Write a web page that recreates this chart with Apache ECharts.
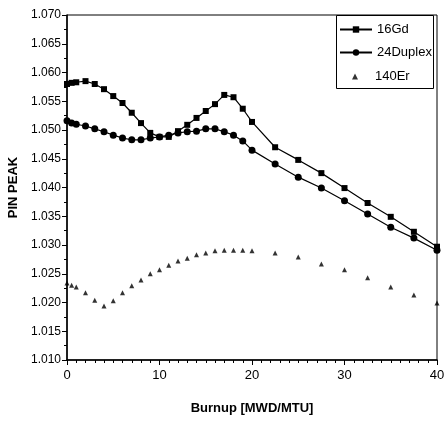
<!DOCTYPE html>
<html>
<head>
<meta charset="utf-8">
<script src="https://cdn.jsdelivr.net/npm/echarts@6/dist/echarts.min.js"></script>
<style>
html, body { margin: 0; padding: 0; background: #fff; }
#chart { width: 447px; height: 421px; }
</style>
</head>
<body>
<div id="chart"></div>
<script>
// burnup steps [MWD/MTU], shared by all three cases
var burnup = [0, 0.5, 1, 2, 3, 4, 5, 6, 7, 8, 9, 10, 11, 12, 13, 14, 15, 16, 17, 18, 19, 20,
	22.5, 25, 27.5, 30, 32.5, 35, 37.5, 40];

var gd16 = [1.0580, 1.0582, 1.0583, 1.0585, 1.0580, 1.0571, 1.0559, 1.0547, 1.0530, 1.0512,
	1.0495, 1.0488, 1.0488, 1.0498, 1.0509, 1.0521, 1.0533, 1.0545, 1.0561, 1.0557, 1.0537, 1.0514,
	1.0470, 1.0448, 1.0425, 1.0399, 1.0373, 1.0349, 1.0323, 1.0297];

var duplex24 = [1.0516, 1.0512, 1.0510, 1.0507, 1.0502, 1.0497, 1.0491, 1.0486, 1.0483, 1.0483,
	1.0486, 1.0488, 1.0491, 1.0495, 1.0497, 1.0498, 1.0502, 1.0502, 1.0497, 1.0491, 1.0481, 1.0465,
	1.0441, 1.0418, 1.0399, 1.0377, 1.0354, 1.0331, 1.0312, 1.0291];

var er140 = [1.0234, 1.0230, 1.0227, 1.0217, 1.0204, 1.0194, 1.0203, 1.0217, 1.0229, 1.0239,
	1.0250, 1.0257, 1.0265, 1.0272, 1.0277, 1.0283, 1.0286, 1.0290, 1.0291, 1.0291, 1.0291, 1.0290,
	1.0286, 1.0279, 1.0267, 1.0257, 1.0243, 1.0227, 1.0213, 1.0199];

var seriesNames = ['16Gd', '24Duplex', '140Er'];

function pairs(xs, ys) {
	var out = [];
	for (var i = 0; i < xs.length; i++) {
		out.push([xs[i], ys[i]]);
	}
	return out;
}

var font = 'Liberation Sans, Arial, sans-serif';
var myChart = echarts.init(document.getElementById('chart'));
var option = {
	animation : false,
	backgroundColor : '#fff',
	grid : {
		left : 67,
		right : 10,
		top : 15,
		bottom : 61,
		outerBoundsMode : 'none',
		show : true,
		borderColor : '#000',
		borderWidth : 1
	},
	// legend frame
	graphic : [ {
		type : 'rect',
		left : 336,
		top : 15,
		shape : { width : 97, height : 73 },
		style : { fill : '#fff', stroke : '#000', lineWidth : 1 },
		z : 90
	} ],
	legend : [ {
		orient : 'vertical',
		left : 339,
		top : 23,
		padding : 0,
		itemGap : 10,
		itemWidth : 32,
		itemHeight : 8,
		textStyle : {
			color : '#000',
			fontFamily : font,
			fontSize : 13
		},
		data : [ seriesNames[0], seriesNames[1] ],
		z : 100
	}, {
		// separate legend so the triangle stays small like the plot marks
		orient : 'vertical',
		left : 352,
		top : 70,
		padding : 0,
		itemWidth : 6,
		itemHeight : 6,
		formatter : '{s|}{n|{name}}',
		textStyle : {
			color : '#000',
			fontFamily : font,
			fontSize : 13,
			rich : {
				s : { width : 12 },
				n : { color : '#000', fontFamily : font, fontSize : 13 }
			}
		},
		data : [ seriesNames[2] ],
		z : 100
	} ],
	xAxis : {
		type : 'value',
		min : 0,
		max : 40,
		interval : 10,
		name : 'Burnup [MWD/MTU]',
		nameLocation : 'middle',
		nameGap : 42,
		nameTextStyle : {
			color : '#000',
			fontFamily : font,
			fontSize : 13,
			fontWeight : 'bold'
		},
		axisLine : {
			lineStyle : { color : '#000', width : 1.5 }
		},
		axisTick : {
			show : true,
			length : 5,
			lineStyle : { color : '#000' }
		},
		minorTick : {
			show : true,
			splitNumber : 10,
			length : 3,
			lineStyle : { color : '#000' }
		},
		splitLine : { show : false },
		axisLabel : {
			color : '#000',
			fontFamily : font,
			fontSize : 13,
			margin : 9
		}
	},
	yAxis : {
		type : 'value',
		min : 1.010,
		max : 1.070,
		interval : 0.005,
		name : 'PIN PEAK',
		nameLocation : 'middle',
		nameGap : 40,
		nameTextStyle : {
			color : '#000',
			fontFamily : font,
			fontSize : 13,
			fontWeight : 'bold'
		},
		axisLine : {
			lineStyle : { color : '#000', width : 1.5 }
		},
		axisTick : {
			show : true,
			length : 5,
			lineStyle : { color : '#000' }
		},
		minorTick : {
			show : true,
			splitNumber : 2,
			length : 3,
			lineStyle : { color : '#000' }
		},
		splitLine : { show : false },
		axisLabel : {
			color : '#000',
			fontFamily : font,
			fontSize : 12,
			margin : 6,
			formatter : function(v) {
				return v.toFixed(3);
			}
		}
	},
	series : [ {
		name : seriesNames[0],
		type : 'line',
		data : pairs(burnup, gd16),
		symbol : 'rect',
		symbolSize : 6,
		showAllSymbol : true,
		itemStyle : { color : '#000' },
		lineStyle : { color : '#000', width : 1.2 }
	}, {
		name : seriesNames[1],
		type : 'line',
		data : pairs(burnup, duplex24),
		symbol : 'circle',
		symbolSize : 7,
		showAllSymbol : true,
		itemStyle : { color : '#000' },
		lineStyle : { color : '#000', width : 1.2 }
	}, {
		name : seriesNames[2],
		type : 'scatter',
		data : pairs(burnup, er140),
		symbol : 'triangle',
		symbolSize : 5,
		itemStyle : { color : '#000' }
	} ]
};
myChart.setOption(option);
</script>
</body>
</html>
